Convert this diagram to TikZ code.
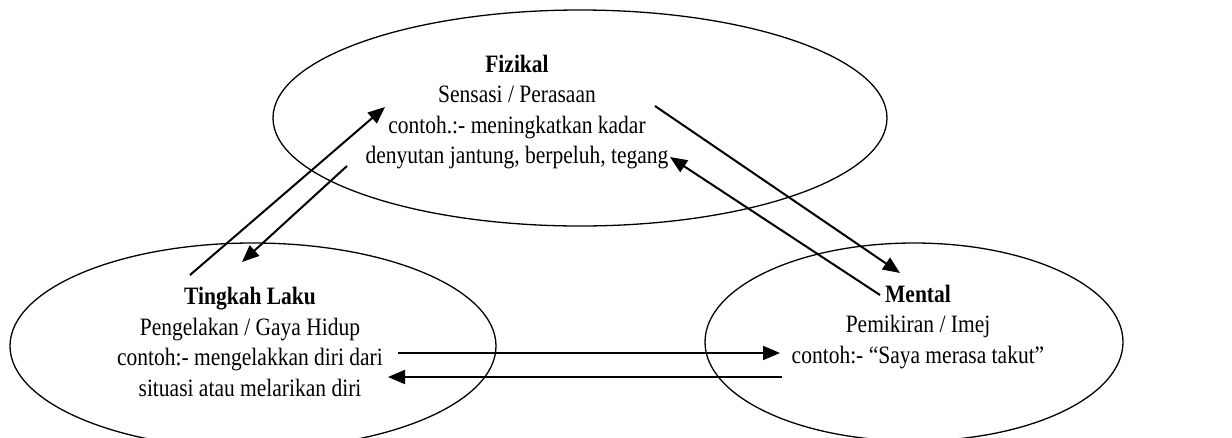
\documentclass[tikz,border=0pt]{standalone}
\usepackage{fontspec}
\setmainfont{Liberation Serif}[FakeStretch=0.86]
\usetikzlibrary{shapes.geometric,arrows.meta}
\tikzset{
  oval/.style={draw,line width=1.3pt,ellipse,inner sep=0pt},
  lbl/.style={align=center,font=\fontsize{25}{30.5}\selectfont,inner sep=0pt},
  conn/.style={line width=2pt,-{Triangle[length=17pt,width=14pt]}}
}
\begin{document}
\begin{tikzpicture}[x=1pt,y=-1pt]
\useasboundingbox (0,0) rectangle (1232,437);
\node[oval,minimum width=614pt,minimum height=216pt] (ftop) at (580,118) {};
\node[oval,minimum width=486pt,minimum height=206pt] (fleft) at (253,346) {};
\node[oval,minimum width=418pt,minimum height=198pt] (fright) at (914,342) {};
\node[lbl] (tfiz) at (517,112) {\textbf{Fizikal}\\Sensasi / Perasaan\\contoh.:- meningkatkan kadar\\denyutan jantung, berpeluh, tegang};
\node[lbl] (tting) at (250,342) {\textbf{Tingkah Laku}\\Pengelakan / Gaya Hidup\\contoh:- mengelakkan diri dari\\situasi atau melarikan diri};
\node[lbl] (tment) at (918,327) {\textbf{Mental}\\Pemikiran / Imej\\contoh:- “Saya merasa takut”};
\coordinate (a1s) at (190,275); \coordinate (a1e) at (385,107);
\coordinate (a2s) at (347,166); \coordinate (a2e) at (242,262);
\coordinate (a3s) at (655,106); \coordinate (a3e) at (900,273);
\coordinate (a4s) at (880,295); \coordinate (a4e) at (670,157);
\coordinate (a5s) at (398,353); \coordinate (a5e) at (780,353);
\coordinate (a6s) at (782,377); \coordinate (a6e) at (388,377);
\draw[conn] (a1s) -- (a1e);
\draw[conn] (a2s) -- (a2e);
\draw[conn] (a3s) -- (a3e);
\draw[conn] (a4s) -- (a4e);
\draw[conn] (a5s) -- (a5e);
\draw[conn] (a6s) -- (a6e);
\end{tikzpicture}
\end{document}
